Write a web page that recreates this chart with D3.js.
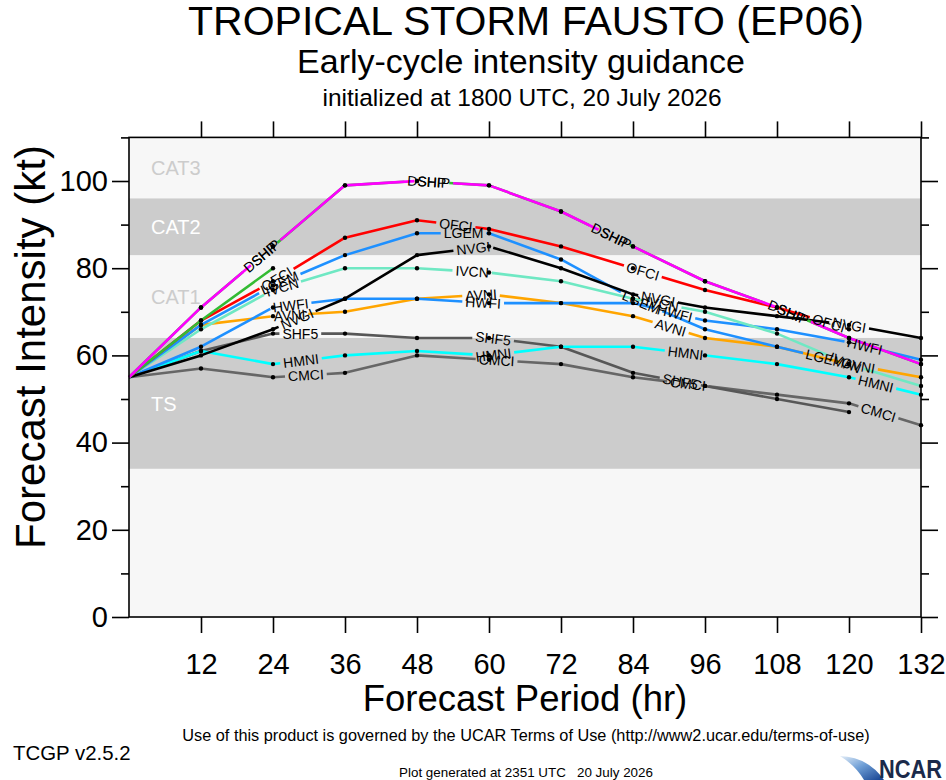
<!DOCTYPE html>
<html>
<head>
<meta charset="utf-8">
<script src="https://cdn.jsdelivr.net/npm/d3@7"></script>
<style>
  body { margin: 0; background: #fff; }
  svg text { font-family: "Liberation Sans", Arial, Helvetica, sans-serif; }
</style>
</head>
<body>
<svg id="chart" width="946" height="780"></svg>
<script>
// forecast hours and axis ticks
var hours = [0, 12, 24, 36, 48, 60, 72, 84, 96, 108, 120, 132];
var hourTicks = [12, 24, 36, 48, 60, 72, 84, 96, 108, 120, 132];
var ktMajor = [0, 20, 40, 60, 80, 100];
var ktMinor = [10, 30, 50, 70, 90, 110];

// intensity category bands (kt)
var bandNames = ["TS", "CAT1", "CAT2", "CAT3"];
var bandLow = [34, 64, 83, 96];
var bandHigh = [64, 83, 96, 110];

// model intensities (kt), one value per forecast hour
var cmciValues = [55, 57, 55, 56, 60, 59, 58, 55, 53, 51, 49, 44];
var shf5Values = [55, 61, 65, 65, 64, 64, 62, 56, 53, 50, 47, null];
var hmniValues = [55, 61, 58, 60, 61, 60, 62, 62, 60, 58, 55, 51];
var avniValues = [55, 67, 69, 70, 73, 74, 72, 69, 64, 62, 58, 55];
var hwfiValues = [55, 62, 71, 73, 73, 72, 72, 72, 68, 66, 63, 59];
var ivcnValues = [55, 66, 75, 80, 80, 79, 77, 73, 70, 65, 58, 53];
var lgemValues = [55, 67, 76, 83, 88, 88, 82, 73, 66, 62, 58, null];
var nvgiValues = [55, 60, 66, 73, 83, 85, 80, 74, 71, 69, 67, 64];
var ofciValues = [55, 68, 77, 87, 91, 89, 85, 80, 75, 71, 66, null];
var greenValues = [55, 68, 80, null, null, null, null, null, null, null, null, null];
var dshpValues = [55, 71, 85, 99, 100, 99, 93, 85, 77, 71, 64, 58];
var shipValues = [55, 71, 85, 99, 100, 99, 93, 85, 77, 71, 64, 58];

// drawing order, bottom first
var modelNames = ["CMCI", "SHF5", "HMNI", "AVNI", "HWFI", "IVCN", "LGEM", "NVGI", "OFCI", "", "DSHP", "SHIP"];
var modelValues = [cmciValues, shf5Values, hmniValues, avniValues, hwfiValues, ivcnValues,
                   lgemValues, nvgiValues, ofciValues, greenValues, dshpValues, shipValues];
var modelColors = ["#666666", "#575757", "#00ffff", "#ffa500", "#1e90ff", "#6fe8c3",
                   "#1e90ff", "#000000", "#ff0000", "#33bb33", "#33bb33", "#ff00ff"];

var svg = d3.select("#chart");
var x = d3.scaleLinear().domain([0, 132]).range([129, 921]);
var y = d3.scaleLinear().domain([0, 110]).range([617, 137.4]);

// ---- titles
var titles = svg.append("g").attr("text-anchor", "middle");
titles.append("text").attr("x", 526).attr("y", 35).attr("font-size", 41)
  .text("TROPICAL STORM FAUSTO (EP06)");
titles.append("text").attr("x", 521).attr("y", 73).attr("font-size", 34)
  .text("Early-cycle intensity guidance");
titles.append("text").attr("x", 522).attr("y", 106).attr("font-size", 24.5)
  .text("initialized at 1800 UTC, 20 July 2026");

// ---- plot background and bands
svg.append("rect")
  .attr("x", x(0)).attr("y", y(110))
  .attr("width", x(132) - x(0)).attr("height", y(0) - y(110))
  .attr("fill", "#f7f7f7");

var bands = svg.append("g");
bandNames.forEach(function (name, i) {
  var dark = (i % 2 === 0);
  if (dark) {
    bands.append("rect")
      .attr("x", x(0)).attr("y", y(bandHigh[i]))
      .attr("width", x(132) - x(0)).attr("height", y(bandLow[i]) - y(bandHigh[i]))
      .attr("fill", "#cccccc");
  }
  bands.append("text")
    .attr("x", 151)
    .attr("y", (y(bandLow[i]) + y(bandHigh[i])) / 2)
    .attr("dy", "0.36em")
    .attr("font-size", 20)
    .attr("fill", dark ? "#ffffff" : "#cccccc")
    .text(name);
});

// ---- helpers for lines with label gaps
var labelFirst = 178, labelSpacing = 193, labelPad = 3;
var labelShift = { SHIP: 7 };

function buildPath(pts) {
  var cum = [0];
  for (var i = 1; i < pts.length; i++)
    cum.push(cum[i - 1] + Math.hypot(pts[i][0] - pts[i - 1][0], pts[i][1] - pts[i - 1][1]));
  return { pts: pts, cum: cum, total: cum[cum.length - 1] };
}

function pointAt(p, s) {
  var i = 1;
  while (i < p.cum.length - 1 && p.cum[i] < s) i++;
  var a = p.pts[i - 1], b = p.pts[i];
  var t = (s - p.cum[i - 1]) / (p.cum[i] - p.cum[i - 1]);
  return {
    x: a[0] + t * (b[0] - a[0]),
    y: a[1] + t * (b[1] - a[1]),
    angle: Math.atan2(b[1] - a[1], b[0] - a[0]) * 180 / Math.PI
  };
}

function piece(p, s0, s1) {
  var a = pointAt(p, s0), b = pointAt(p, s1);
  var out = [[a.x, a.y]];
  for (var i = 0; i < p.pts.length; i++)
    if (p.cum[i] > s0 && p.cum[i] < s1) out.push(p.pts[i]);
  out.push([b.x, b.y]);
  return out;
}

var measure = svg.append("text").attr("font-size", 14).attr("visibility", "hidden");
function textWidth(str) {
  measure.text(str);
  return measure.node().getComputedTextLength();
}

var line = d3.line();
var linesG = svg.append("g").attr("fill", "none").attr("stroke-width", 2.6)
  .attr("stroke-linejoin", "round");
var dotsG = svg.append("g");
var labelsG = svg.append("g").attr("font-size", 14).attr("text-anchor", "middle");

modelNames.forEach(function (name, m) {
  var vals = modelValues[m];
  var pts = [];
  hours.forEach(function (h, i) {
    if (vals[i] != null) pts.push([x(h), y(vals[i])]);
  });
  var p = buildPath(pts);

  var gaps = [];
  if (name) {
    var w = textWidth(name);
    for (var s = labelFirst + (labelShift[name] || 0); s <= p.total - 10; s += labelSpacing) {
      var at = pointAt(p, s);
      gaps.push([s - w / 2 - labelPad, s + w / 2 + labelPad]);
      labelsG.append("text")
        .attr("transform", "translate(" + at.x + "," + at.y + ") rotate(" + at.angle + ")")
        .attr("dy", "0.36em")
        .text(name);
    }
  }

  var start = 0;
  gaps.forEach(function (g) {
    if (g[0] > start) linesG.append("path").attr("stroke", modelColors[m]).attr("d", line(piece(p, start, g[0])));
    start = Math.min(g[1], p.total);
  });
  if (start < p.total)
    linesG.append("path").attr("stroke", modelColors[m]).attr("d", line(piece(p, start, p.total)));

  hours.forEach(function (h, i) {
    if (h > 0 && vals[i] != null)
      dotsG.append("circle").attr("cx", x(h)).attr("cy", y(vals[i])).attr("r", 2.2).attr("fill", "#000");
  });
});

// ---- frame and axes
svg.append("rect")
  .attr("x", x(0)).attr("y", y(110))
  .attr("width", x(132) - x(0)).attr("height", y(0) - y(110))
  .attr("fill", "none").attr("stroke", "#000").attr("stroke-width", 1.6);

function styleAxis(g) {
  g.select(".domain").remove();
  g.selectAll("line").attr("stroke", "#000").attr("stroke-width", 1.6);
  g.selectAll("text").attr("fill", "#000").attr("font-size", 29)
    .attr("font-family", '"Liberation Sans", Arial, Helvetica, sans-serif');
}

svg.append("g").attr("transform", "translate(0," + y(0) + ")")
  .call(d3.axisBottom(x).tickValues(hourTicks).tickSize(16).tickPadding(20).tickSizeOuter(0))
  .call(styleAxis);
svg.append("g").attr("transform", "translate(0," + y(110) + ")")
  .call(d3.axisTop(x).tickValues(hourTicks).tickSize(16).tickFormat("").tickSizeOuter(0))
  .call(styleAxis);
svg.append("g").attr("transform", "translate(" + x(0) + ",0)")
  .call(d3.axisLeft(y).tickValues(ktMajor).tickSize(17).tickPadding(4).tickSizeOuter(0))
  .call(styleAxis);
svg.append("g").attr("transform", "translate(" + x(0) + ",0)")
  .call(d3.axisLeft(y).tickValues(ktMinor).tickSize(8).tickFormat("").tickSizeOuter(0))
  .call(styleAxis);
svg.append("g").attr("transform", "translate(" + x(132) + ",0)")
  .call(d3.axisRight(y).tickValues(ktMajor).tickSize(17).tickFormat("").tickSizeOuter(0))
  .call(styleAxis);
svg.append("g").attr("transform", "translate(" + x(132) + ",0)")
  .call(d3.axisRight(y).tickValues(ktMinor).tickSize(8).tickFormat("").tickSizeOuter(0))
  .call(styleAxis);

// axis titles
svg.append("text")
  .attr("transform", "translate(45,347) rotate(-90)")
  .attr("text-anchor", "middle").attr("font-size", 42)
  .text("Forecast Intensity (kt)");
svg.append("text")
  .attr("x", 525).attr("y", 711)
  .attr("text-anchor", "middle").attr("font-size", 36.5)
  .text("Forecast Period (hr)");

// ---- footer
svg.append("text").attr("x", 13).attr("y", 760).attr("font-size", 20.4).text("TCGP v2.5.2");
svg.append("text").attr("x", 526).attr("y", 741).attr("text-anchor", "middle").attr("font-size", 16.3)
  .text("Use of this product is governed by the UCAR Terms of Use (http://www2.ucar.edu/terms-of-use)");
svg.append("text").attr("x", 526).attr("y", 777).attr("text-anchor", "middle").attr("font-size", 13.4)
  .attr("xml:space", "preserve")
  .text("Plot generated at 2351 UTC   20 July 2026");

// NCAR logo
var defs = svg.append("defs");
var grad = defs.append("linearGradient").attr("id", "swoosh")
  .attr("x1", "0").attr("y1", "0").attr("x2", "1").attr("y2", "1");
grad.append("stop").attr("offset", "0").attr("stop-color", "#e4eef8");
grad.append("stop").attr("offset", "0.45").attr("stop-color", "#6f9fd6");
grad.append("stop").attr("offset", "1").attr("stop-color", "#123f8f");
svg.append("path")
  .attr("d", "M840,756 Q868,757 884,780 L864,780 Q856,766 840,756 Z")
  .attr("fill", "url(#swoosh)");
svg.append("text").attr("x", 879).attr("y", 778)
  .attr("font-size", 25).attr("font-weight", "bold").attr("fill", "#1b2a4a")
  .attr("textLength", 63).attr("lengthAdjust", "spacingAndGlyphs")
  .text("NCAR");
</script>
</body>
</html>
